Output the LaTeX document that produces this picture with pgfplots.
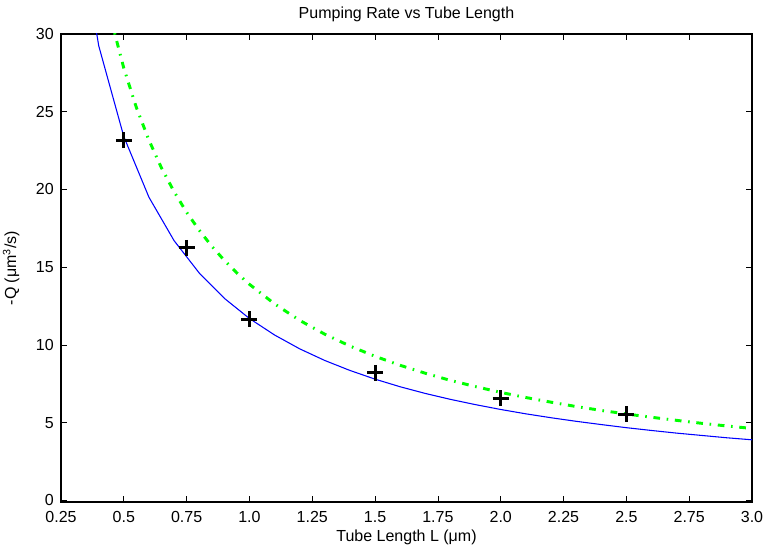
\documentclass[border=0pt]{standalone}
\usepackage{fontspec}
\setmainfont{Liberation Sans}
\usepackage{pgfplots}
\pgfplotsset{compat=1.18}

\definecolor{mblue}{RGB}{0,0,255}
\definecolor{mgreen}{RGB}{0,255,0}

\begin{document}
\begin{tikzpicture}
\begin{axis}[
    scale only axis,
    width=518.25pt,
    height=351pt,
    xmin=0.25, xmax=3.0,
    ymin=-0.1, ymax=30,
    xtick={0.25,0.5,0.75,1.0,1.25,1.5,1.75,2.0,2.25,2.5,2.75,3.0},
    xticklabels={0.25,0.5,0.75,1.0,1.25,1.5,1.75,2.0,2.25,2.5,2.75,3.0},
    ytick={0,5,10,15,20,25,30},
    yticklabels={0,5,10,15,20,25,30},
    tick align=inside,
    major tick length=4.5pt,
    tick style={black, line width=0.6pt},
    axis line style={black, line width=0.8pt},
    every axis plot/.append style={line join=round},
    xticklabel style={font=\fontsize{12}{14}\selectfont, inner sep=0pt, anchor=north, yshift=-6.75pt},
    yticklabel style={font=\fontsize{12}{14}\selectfont, inner sep=0pt, anchor=east, xshift=-5.25pt},
    title={Pumping Rate vs Tube Length},
    title style={font=\fontsize{12}{14}\selectfont, at={(axis description cs:0.5,1)}, anchor=base, yshift=5.5pt, inner sep=0pt},
    xlabel={Tube Length L (μm)},
    xlabel style={font=\fontsize{12}{14}\selectfont, at={(axis description cs:0.5,0)}, anchor=base, yshift=-30pt, inner sep=0pt},
    ylabel={-Q (μm\textsuperscript{3}/s)},
    ylabel style={font=\fontsize{12}{14}\selectfont, at={(axis description cs:-0.065,0.5)}, anchor=base, inner sep=0pt},
]
% fitted curve (solid blue)
\addplot[mblue, line width=0.8pt] coordinates {
    (0.3,39.0) (0.4,29.25) (0.5,23.4) (0.6,19.5) (0.7,16.71) (0.8,14.63)
    (0.9,13.0) (1.0,11.7) (1.1,10.64) (1.2,9.75) (1.3,9.0) (1.4,8.36)
    (1.5,7.8) (1.6,7.31) (1.7,6.88) (1.8,6.5) (1.9,6.16) (2.0,5.85)
    (2.1,5.57) (2.2,5.32) (2.3,5.09) (2.4,4.88) (2.5,4.68) (2.6,4.5)
    (2.7,4.33) (2.8,4.18) (2.9,4.03) (3.0,3.9)
};
% theory curve (green dash-dot)
\addplot[mgreen, line width=2.2pt, dash pattern=on 5pt off 5pt on 1.2pt off 5pt] coordinates {
    (0.45,30.89) (0.5,27.80) (0.55,25.27) (0.6,23.17) (0.65,21.38) (0.7,19.86)
    (0.75,18.53) (0.8,17.38) (0.85,16.35) (0.9,15.44) (0.95,14.63) (1.0,13.90)
    (1.1,12.64) (1.2,11.58) (1.3,10.69) (1.4,9.93) (1.5,9.27) (1.6,8.69)
    (1.7,8.18) (1.8,7.72) (1.9,7.32) (2.0,6.95) (2.1,6.62) (2.2,6.32)
    (2.3,6.04) (2.4,5.79) (2.5,5.56) (2.6,5.35) (2.7,5.15) (2.8,4.96)
    (2.9,4.79) (3.0,4.63)
};
% measurements
\addplot[only marks, black, mark=+, mark size=6pt, line width=2.2pt] coordinates {
    (0.5,23.17) (0.75,16.25) (1.0,11.65) (1.5,8.21) (2.0,6.57) (2.5,5.54)
};
\end{axis}
\pgfresetboundingbox
\path[use as bounding box] (current axis.south west) ++(-45.75pt,-34.5pt)
    rectangle ([xshift=8.25pt,yshift=25.5pt]current axis.north east);
\end{tikzpicture}
\end{document}
